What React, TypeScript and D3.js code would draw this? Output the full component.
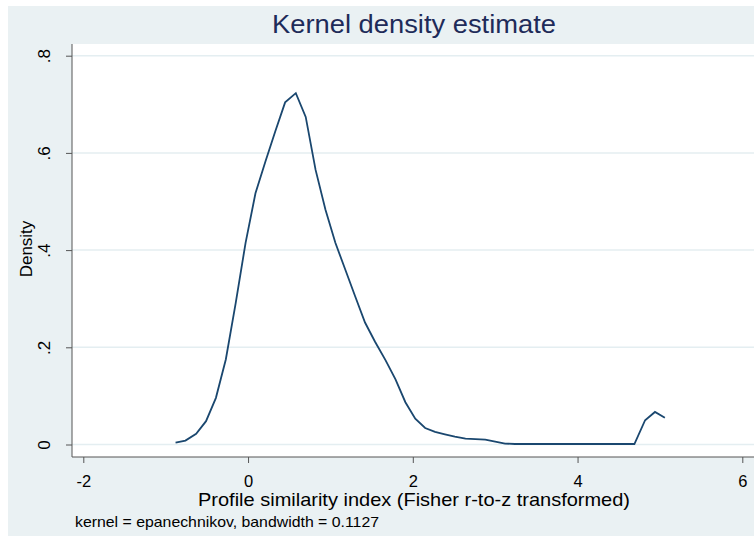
import { useEffect, useRef } from "react";
import * as d3 from "d3";

// kernel density estimate, 50 evaluation points
const gridX = [
  -0.88, -0.76, -0.63, -0.51, -0.39, -0.27, -0.15, -0.03, 0.09, 0.21,
  0.33, 0.45, 0.58, 0.7, 0.82, 0.94, 1.06, 1.18, 1.3, 1.42,
  1.54, 1.67, 1.79, 1.91, 2.03, 2.15, 2.27, 2.39, 2.51, 2.64,
  2.76, 2.88, 3.0, 3.12, 3.24, 3.36, 3.48, 3.6, 3.73, 3.85,
  3.97, 4.09, 4.21, 4.33, 4.45, 4.57, 4.69, 4.82, 4.94, 5.06,
];
const density = [
  0.004, 0.008, 0.022, 0.048, 0.096, 0.175, 0.291, 0.415, 0.517, 0.582,
  0.644, 0.704, 0.723, 0.674, 0.565, 0.483, 0.415, 0.36, 0.305, 0.251,
  0.212, 0.173, 0.134, 0.087, 0.053, 0.034, 0.026, 0.021, 0.016, 0.012,
  0.011, 0.01, 0.006, 0.002, 0.001, 0.001, 0.001, 0.001, 0.001, 0.001,
  0.001, 0.001, 0.001, 0.001, 0.001, 0.001, 0.001, 0.05, 0.067, 0.055,
];
const xTicks = [-2, 0, 2, 4, 6];
const xTickLabels = ["-2", "0", "2", "4", "6"];
const yTicks = [0, 0.2, 0.4, 0.6, 0.8];
const yTickLabels = ["0", ".2", ".4", ".6", ".8"];

const W = 754;
const H = 536;
const FONT = "'Liberation Sans', Arial, sans-serif";

export default function App() {
  const svgRef = useRef<SVGSVGElement>(null);

  useEffect(() => {
    if (!svgRef.current) return;
    const svg = d3.select(svgRef.current);
    svg.selectAll("*").remove();

    const plot = { left: 72, top: 44, right: 754, bottom: 457 };

    const x = d3.scaleLinear().domain([-2, 6]).range([83.3, 742.3]);
    const y = d3.scaleLinear().domain([0, 0.8]).range([444.5, 55.7]);

    // graph region
    svg.append("rect").attr("x", 8).attr("y", 6).attr("width", W - 8).attr("height", H - 6).attr("fill", "#eaf1f3");
    // plot region
    svg
      .append("rect")
      .attr("x", plot.left)
      .attr("y", plot.top)
      .attr("width", plot.right - plot.left)
      .attr("height", plot.bottom - plot.top)
      .attr("fill", "#ffffff");

    // grid lines
    svg
      .append("g")
      .selectAll("line")
      .data(yTicks)
      .enter()
      .append("line")
      .attr("x1", plot.left)
      .attr("x2", plot.right)
      .attr("y1", (d) => y(d))
      .attr("y2", (d) => y(d))
      .attr("stroke", "#e4eef1")
      .attr("stroke-width", 1.5);

    // density curve
    const pts = gridX.map((g, i) => [g, density[i]] as [number, number]);
    const line = d3
      .line<[number, number]>()
      .x((d) => x(d[0]))
      .y((d) => y(d[1]));
    svg
      .append("path")
      .datum(pts)
      .attr("d", line)
      .attr("fill", "none")
      .attr("stroke", "#1a476f")
      .attr("stroke-width", 1.8)
      .attr("stroke-linejoin", "miter");

    // y axis
    const yAxis = svg
      .append("g")
      .attr("transform", `translate(${plot.left},0)`)
      .call(
        d3
          .axisLeft(y)
          .tickValues(yTicks)
          .tickSize(6)
          .tickPadding(0)
          .tickFormat((_d, i) => yTickLabels[i])
      );
    yAxis.select(".domain").attr("d", `M0,${plot.top}V${plot.bottom}`).attr("stroke", "#555");
    yAxis.selectAll(".tick line").attr("stroke", "#555");
    yAxis
      .selectAll(".tick text")
      .attr("x", null)
      .attr("dy", null)
      .attr("text-anchor", "middle")
      .attr("transform", "translate(-22,0) rotate(-90)")
      .attr("fill", "#000")
      .style("font-family", FONT)
      .style("font-size", "17px");

    // x axis
    const xAxis = svg
      .append("g")
      .attr("transform", `translate(0,${plot.bottom})`)
      .call(
        d3
          .axisBottom(x)
          .tickValues(xTicks)
          .tickSize(6)
          .tickPadding(0)
          .tickFormat((_d, i) => xTickLabels[i])
      );
    xAxis.select(".domain").attr("d", `M${plot.left},0H${plot.right}`).attr("stroke", "#555");
    xAxis.selectAll(".tick line").attr("stroke", "#555");
    xAxis
      .selectAll(".tick text")
      .attr("y", 29.7)
      .attr("dy", null)
      .attr("fill", "#000")
      .style("font-family", FONT)
      .style("font-size", "16.5px");

    // titles
    svg
      .append("text")
      .attr("x", 414)
      .attr("y", 33.3)
      .attr("text-anchor", "middle")
      .attr("fill", "#1e2b59")
      .attr("textLength", 284)
      .attr("lengthAdjust", "spacingAndGlyphs")
      .style("font-family", FONT)
      .style("font-size", "25.5px")
      .text("Kernel density estimate");

    svg
      .append("text")
      .attr("x", 414)
      .attr("y", 506)
      .attr("text-anchor", "middle")
      .attr("fill", "#000")
      .attr("textLength", 432)
      .attr("lengthAdjust", "spacingAndGlyphs")
      .style("font-family", FONT)
      .style("font-size", "18.5px")
      .text("Profile similarity index (Fisher r-to-z transformed)");

    svg
      .append("text")
      .attr("transform", `translate(32,249) rotate(-90)`)
      .attr("text-anchor", "middle")
      .attr("fill", "#000")
      .style("font-family", FONT)
      .style("font-size", "17px")
      .text("Density");

    svg
      .append("text")
      .attr("x", 75)
      .attr("y", 527)
      .attr("fill", "#000")
      .attr("textLength", 304)
      .attr("lengthAdjust", "spacingAndGlyphs")
      .style("font-family", FONT)
      .style("font-size", "14.5px")
      .text("kernel = epanechnikov, bandwidth = 0.1127");
  }, []);

  return (
    <svg
      ref={svgRef}
      width={W}
      height={H}
      style={{ position: "absolute", left: 0, top: 0, display: "block", background: "#fff" }}
    />
  );
}
